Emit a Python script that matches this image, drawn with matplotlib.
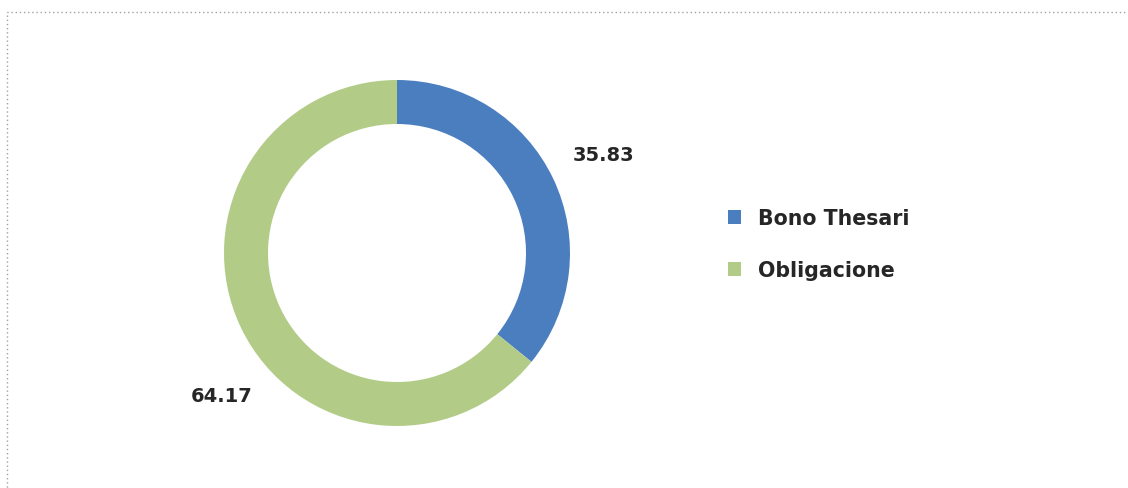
import matplotlib.pyplot as plt
from matplotlib.patches import Rectangle

# Data
labels = ["Bono Thesari", "Obligacione"]
values = [35.83, 64.17]
colors = ["#4A7EBF", "#B2CC88"]

W, H = 1128, 489
fig = plt.figure(figsize=(W / 100, H / 100), dpi=100)
ax = fig.add_axes([0, 0, 1, 1])

# dotted frame, partially outside the picture like the original
frame = Rectangle((6.5, -20), W + 20, H - 12.5 + 20, fill=False,
                  edgecolor="#a0a0a0", linestyle=(0, (1, 2)), linewidth=1)
ax.add_patch(frame)

center = (397, H - 254)
radius = 173
wedges, _ = ax.pie(values, colors=colors, startangle=90, counterclock=False,
                   center=center, radius=radius, frame=True,
                   wedgeprops=dict(width=radius - 129, edgecolor="white", linewidth=0))
ax.set_xlim(0, W)
ax.set_ylim(0, H)
ax.set_aspect("equal")
ax.axis("off")

# value labels
text_color = "#262626"
label_pos = [(603, H - 156), (222, H - 397)]
for (x, y), v in zip(label_pos, values):
    ax.text(x, y, f"{v:.2f}", ha="center", va="center", fontsize=14,
            fontweight="bold", color=text_color)

leg = ax.legend(wedges, labels, loc="center left", bbox_to_anchor=(709 / W, 1 - 245 / H),
                frameon=False, handlelength=0.68, handleheight=0.68, handletextpad=0.8,
                labelspacing=1.55, prop=dict(size=14.8, weight="bold"))
for t in leg.get_texts():
    t.set_color(text_color)

fig.savefig("out.png", dpi=100)
